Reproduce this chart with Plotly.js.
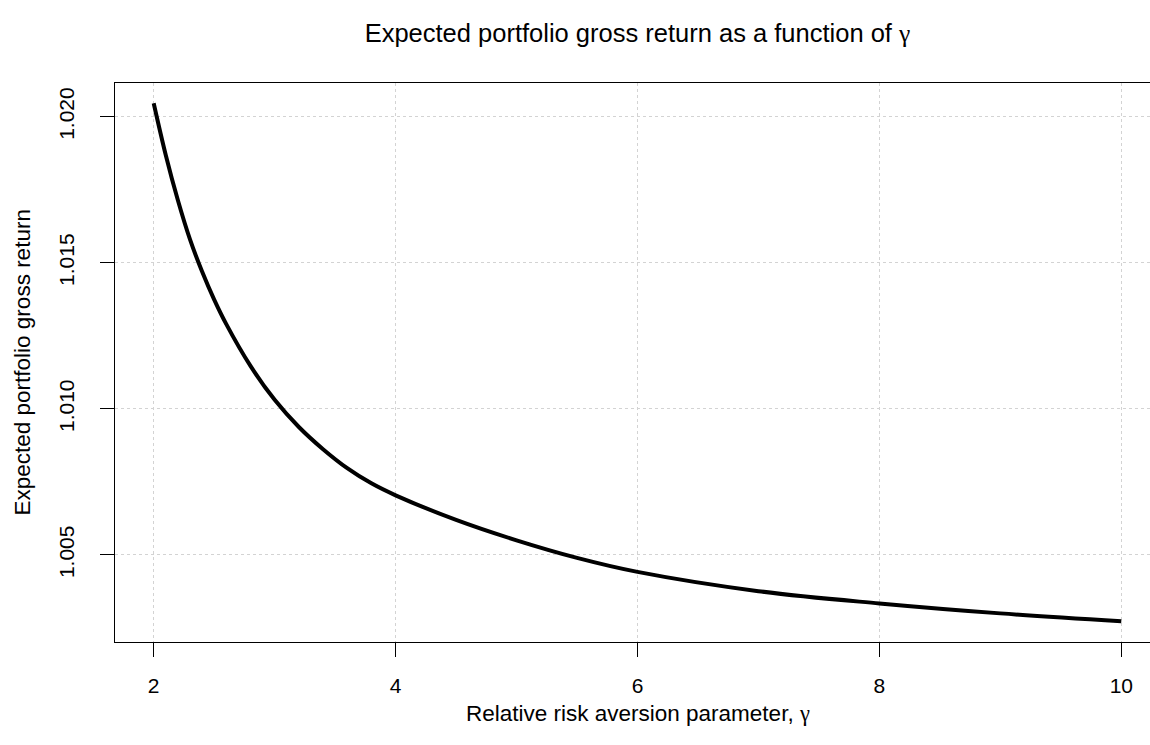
<!DOCTYPE html>
<html>
<head>
<meta charset="utf-8">
<script src="https://cdn.plot.ly/plotly-3.0.1.min.js"></script>
<style>
html, body { margin: 0; padding: 0; overflow: hidden; background: #fff; }
#chart { width: 1175px; height: 745px; }
</style>
</head>
<body>
<div id="chart"></div>
<script>
// Relative risk aversion parameter (gamma) and expected portfolio gross return
var gammaValues = [2.0, 2.1, 2.2, 2.3, 2.4, 2.5, 2.6, 2.8, 3.0, 3.2, 3.4, 3.6, 3.8, 4.0, 4.5, 5.0, 5.5, 6.0, 7.0, 8.0, 9.0, 10.0];
var expectedReturn = [1.02046, 1.01868, 1.01714, 1.01580, 1.01470, 1.01374, 1.01290, 1.01147, 1.01031, 1.00938, 1.00862, 1.00797, 1.00745, 1.00704, 1.00620, 1.00550, 1.00490, 1.00442, 1.00376, 1.00334, 1.00300, 1.00273];
var xTickVals = [2, 4, 6, 8, 10];
var yTickVals = [1.005, 1.010, 1.015, 1.020];
var yTickText = ["1.005", "1.010", "1.015", "1.020"];

var FONT = "Liberation Sans, Arial, Helvetica, sans-serif";
var GAMMA = '<span style="font-family:Liberation Serif, DejaVu Serif, serif">γ</span>';

var trace = {
  x: gammaValues,
  y: expectedReturn,
  type: "scatter",
  mode: "lines",
  line: { color: "#000000", width: 4, shape: "spline", smoothing: 1 },
  hoverinfo: "x+y",
  showlegend: false
};

var layout = {
  width: 1175,
  height: 745,
  paper_bgcolor: "#ffffff",
  plot_bgcolor: "#ffffff",
  margin: { l: 115, r: 15, t: 83, b: 103.3, pad: 0 },
  font: { family: FONT, color: "#000000", size: 21 },
  title: {
    text: "Expected portfolio gross return as a function of " + GAMMA,
    font: { family: FONT, size: 25.5, color: "#000000" },
    x: 0.5, xref: "paper", xanchor: "center",
    y: 1 - 33 / 745, yref: "container", yanchor: "middle"
  },
  xaxis: {
    range: [1.68, 10.32],
    tickvals: xTickVals,
    ticktext: xTickVals.map(String),
    ticks: "outside", ticklen: 14, tickwidth: 1, tickcolor: "#000000",
    ticklabelstandoff: 11,
    showline: true, linecolor: "#000000", linewidth: 1, mirror: true,
    showgrid: true, gridcolor: "#d3d3d3", griddash: "dot", gridwidth: 1,
    zeroline: false,
    tickfont: { family: FONT, size: 21, color: "#000000" },
    fixedrange: true
  },
  yaxis: {
    range: [1.00202, 1.021154],
    tickvals: yTickVals,
    ticktext: yTickText,
    tickangle: -90,
    ticks: "outside", ticklen: 14, tickwidth: 1, tickcolor: "#000000",
    ticklabelstandoff: 18,
    showline: true, linecolor: "#000000", linewidth: 1, mirror: true,
    showgrid: true, gridcolor: "#d3d3d3", griddash: "dot", gridwidth: 1,
    zeroline: false,
    tickfont: { family: FONT, size: 21, color: "#000000" },
    fixedrange: true
  },
  annotations: [
    {
      text: "Relative risk aversion parameter, " + GAMMA,
      xref: "paper", yref: "paper", x: 0.5, y: 0,
      xanchor: "center", yanchor: "middle", yshift: -71,
      showarrow: false,
      font: { family: FONT, size: 22.5, color: "#000000" }
    },
    {
      text: "Expected portfolio gross return",
      xref: "paper", yref: "paper", x: 0, y: 0.5,
      xanchor: "center", yanchor: "middle", xshift: -93,
      textangle: -90,
      showarrow: false,
      font: { family: FONT, size: 22.5, color: "#000000" }
    }
  ]
};

Plotly.newPlot("chart", [trace], layout, { displayModeBar: false, staticPlot: true });
</script>
</body>
</html>
